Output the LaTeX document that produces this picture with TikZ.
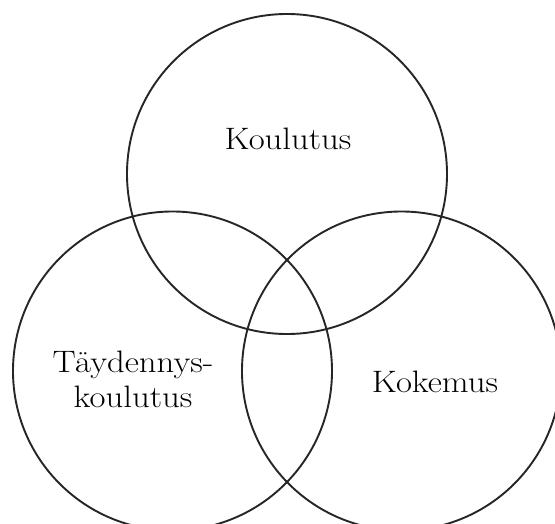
\documentclass[tikz,border=0pt]{standalone}
\begin{document}
\begin{tikzpicture}[x=1pt,y=-1pt,
  ring/.style={draw=black!85,line width=1.9pt},
  lbl/.style={font=\fontsize{31}{35}\selectfont,text=black,inner sep=0pt,align=center}]
\useasboundingbox (0,0) rectangle (555,524);
\clip (0,0) rectangle (555,524);
\fill[white] (0,0) rectangle (555,524);
\draw[ring] (287,174) circle[radius=160];
\draw[ring] (172.5,371) circle[radius=159.5];
\draw[ring] (401.5,371) circle[radius=159.5];
\node[lbl,anchor=base] (koul) at (288,150) {\scalebox{1.12}[1]{Koulutus}};
\node[lbl,anchor=center] (tayd) at (133,379) {\scalebox{1.12}[1]{Täydennys-}\\\scalebox{1.12}[1]{koulutus}};
\node[lbl,anchor=base] (koke) at (435,392) {\scalebox{1.12}[1]{Kokemus}};
\end{tikzpicture}
\end{document}
